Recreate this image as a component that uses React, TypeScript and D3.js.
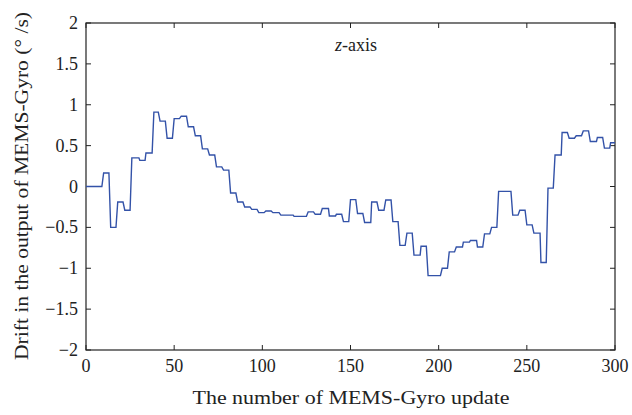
import React from "react";
import * as d3 from "d3";

const xs = [0,9,10,13,14,17,18,21,22,25,26,30,30.5,33.5,34,37.5,38.5,41,42,45,46,49,50,53,54,57,58,61,62,65,66,69,70,73,74,77,78,81,82,85,86,89,90,93,94,97,98,101,102,105,106,109.5,110.5,117.5,118,125,126,129,130,133,134,137.5,138,141.5,142,145,146,149,150,153,154,157,158,161.5,162,165,166,169,170,173,174,177,178,181,182,185,186,189.5,190,193,194,201,202,205,206,209,210,213.5,214,217.5,218,221.5,222,225,226,229,230,233,234,241,242,245,246,249,250,253,254,257.5,258,261,262,265,266,269.5,270,273,274,277,278,281,282,285,286,289.5,290,293,294,297,297.5,300];
const ys = [0,0,0.165,0.165,-0.5,-0.5,-0.19,-0.19,-0.29,-0.29,0.35,0.35,0.32,0.32,0.41,0.41,0.91,0.91,0.8,0.8,0.59,0.59,0.83,0.83,0.86,0.86,0.73,0.73,0.62,0.62,0.46,0.46,0.385,0.385,0.24,0.24,0.2,0.2,-0.08,-0.08,-0.19,-0.19,-0.25,-0.25,-0.28,-0.28,-0.32,-0.32,-0.3,-0.3,-0.32,-0.32,-0.35,-0.35,-0.365,-0.365,-0.31,-0.31,-0.34,-0.34,-0.27,-0.27,-0.36,-0.36,-0.34,-0.34,-0.43,-0.43,-0.16,-0.16,-0.33,-0.33,-0.44,-0.44,-0.19,-0.19,-0.29,-0.29,-0.165,-0.165,-0.43,-0.43,-0.72,-0.72,-0.57,-0.57,-0.84,-0.84,-0.73,-0.73,-1.09,-1.09,-1.0,-1.0,-0.8,-0.8,-0.74,-0.74,-0.68,-0.68,-0.66,-0.66,-0.74,-0.74,-0.58,-0.58,-0.5,-0.5,-0.06,-0.06,-0.35,-0.35,-0.29,-0.29,-0.47,-0.47,-0.57,-0.57,-0.93,-0.93,-0.02,-0.02,0.385,0.385,0.66,0.66,0.59,0.59,0.62,0.62,0.68,0.68,0.55,0.55,0.6,0.6,0.47,0.47,0.535,0.535];

const xTicks = [0, 50, 100, 150, 200, 250, 300];
const yTicks = [2, 1.5, 1, 0.5, 0, -0.5, -1, -1.5, -2];
const xLabel = "The number of MEMS-Gyro update";
const yLabel = "Drift in the output of MEMS-Gyro (° /s)";

const W = 632, H = 415;
const L = 86, R = 615, T = 23, B = 350;
const FONT = "'Liberation Serif', 'DejaVu Serif', serif";

export default function App() {
  const x = d3.scaleLinear().domain([0, 300]).range([L, R]);
  const y = d3.scaleLinear().domain([-2, 2]).range([B, T]);
  const pts: [number, number][] = xs.map((v, i) => [v, ys[i]]);
  const line = d3.line<[number, number]>().x(d => x(d[0])).y(d => y(d[1]));
  const fmt = (v: number) => (v < 0 ? "\u2212" + Math.abs(v) : String(v));
  const tl = 5;
  return (
    <svg width={W} height={H} style={{ position: "absolute", left: 0, top: 0, background: "#fff" }}>
      <rect x={L} y={T} width={R - L} height={B - T} fill="none" stroke="#222" strokeWidth={1.2} />
      {xTicks.map(t => (
        <g key={"x" + t}>
          <line x1={x(t)} x2={x(t)} y1={B} y2={B - tl} stroke="#222" />
          <line x1={x(t)} x2={x(t)} y1={T} y2={T + tl} stroke="#222" />
          <text x={x(t)} y={B + 22} textAnchor="middle" fontFamily={FONT} fontSize={18} fill="#222">{t}</text>
        </g>
      ))}
      {yTicks.map(t => (
        <g key={"y" + t}>
          <line x1={L} x2={L + tl} y1={y(t)} y2={y(t)} stroke="#222" />
          <line x1={R} x2={R - tl} y1={y(t)} y2={y(t)} stroke="#222" />
          <text x={L - 8} y={y(t) + 6} textAnchor="end" fontFamily={FONT} fontSize={18} fill="#222">{fmt(t)}</text>
        </g>
      ))}
      <path d={line(pts) || ""} fill="none" stroke="#3352a8" strokeWidth={1.4} />
      <text x={356} y={51} textAnchor="middle" fontFamily={FONT} fontSize={18} fill="#222">
        <tspan fontStyle="italic">z</tspan>-axis
      </text>
      <text x={351} y={404} textAnchor="middle" fontFamily={FONT} fontSize={19} fill="#222" textLength={317} lengthAdjust="spacingAndGlyphs">{xLabel}</text>
      <text transform={`translate(28, ${186}) rotate(-90)`} textAnchor="middle" fontFamily={FONT} fontSize={19} fill="#222" textLength={348} lengthAdjust="spacingAndGlyphs">{yLabel}</text>
    </svg>
  );
}
